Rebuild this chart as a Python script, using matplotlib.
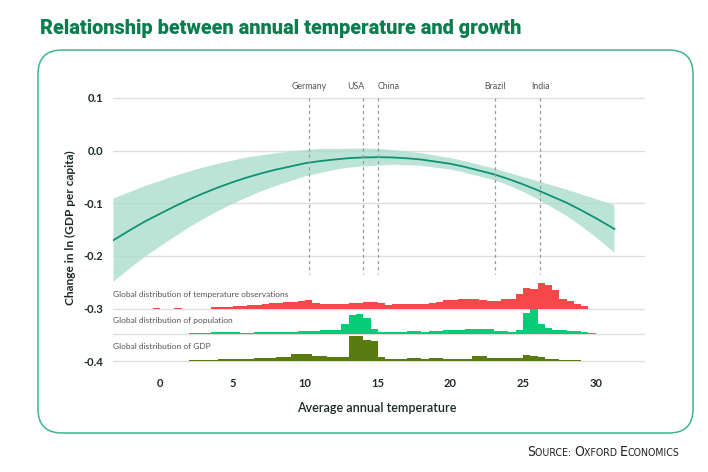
import numpy as np
import matplotlib
matplotlib.use('Agg')
import matplotlib.pyplot as plt
from matplotlib.patches import FancyBboxPatch
import matplotlib.transforms as mtransforms

plt.rcParams['font.family'] = ['Lato', 'DejaVu Sans']
plt.rcParams['axes.unicode_minus'] = False

# --- data ----------------------------------------------------------------
# fitted response curve: temperature (°C) -> change in ln(GDP per capita)
curve_temp = [-3.2, -2, -1, 0, 1, 2, 3, 4, 5, 6, 7, 8, 9, 10, 11, 12, 13, 14, 15,
              16, 17, 18, 19, 20, 21, 22, 23, 24, 25, 26, 27, 28, 29, 30, 31, 31.3]
curve_mid = [-0.170, -0.150, -0.134, -0.120, -0.106, -0.093, -0.081, -0.070, -0.060,
             -0.051, -0.043, -0.036, -0.030, -0.024, -0.020, -0.017, -0.0144, -0.013,
             -0.0125, -0.013, -0.0146, -0.017, -0.021, -0.025, -0.031, -0.038, -0.045,
             -0.054, -0.064, -0.075, -0.087, -0.099, -0.113, -0.128, -0.144, -0.149]
# half width of the confidence band
curve_half = [0.079, 0.072, 0.067, 0.062, 0.058, 0.053, 0.049, 0.045, 0.041, 0.038,
              0.034, 0.031, 0.028, 0.025, 0.023, 0.020, 0.018, 0.017, 0.016, 0.014,
              0.013, 0.012, 0.0115, 0.011, 0.011, 0.011, 0.011, 0.012, 0.014, 0.017,
              0.021, 0.025, 0.030, 0.036, 0.043, 0.045]

countries = ['Germany', 'USA', 'China', 'Brazil', 'India']
country_temp = [10.25, 13.95, 15.05, 23.05, 26.2]
country_align = ['center', 'right', 'left', 'center', 'center']

# distributions on 0.5 °C bins from -1 to 30 (relative shares)
bin_edges = np.arange(-1.0, 30.01, 0.5)
temp_obs_share = [0, 0.8, 0, 0, 0.8, 0, 0, 0, 0, 1.3, 1.5, 2.0, 2.5, 3.0, 3.5, 4.0,
                  5.0, 5.5, 6.0, 6.5, 7.0, 8.0, 8.3, 6.0, 5.0, 5.0, 5.0, 5.0, 6.0, 6.0,
                  6.7, 6.7, 5.3, 3.3, 4.7, 4.7, 5.0, 5.0, 4.7, 5.5, 6.7, 8.7, 9.0, 9.3,
                  9.3, 10.0, 8.7, 8.0, 7.3, 9.7, 10.0, 15.0, 21.0, 20.0, 26.0, 24.0,
                  18.3, 10.0, 7.3, 5.0, 2.7, 0]
population_share = [0, 0, 0, 0, 0, 0, 1.0, 1.3, 1.3, 2.3, 2.3, 2.3, 2.3, 1.3, 1.3,
                    1.7, 1.7, 1.7, 2.3, 2.3, 2.3, 2.7, 2.7, 2.7, 4.0, 4.0, 4.0, 10.0,
                    19.0, 19.5, 16.0, 5.0, 1.7, 1.7, 2.0, 2.3, 3.0, 3.3, 2.3, 3.3, 3.3,
                    3.5, 4.0, 4.0, 4.5, 4.7, 5.0, 4.5, 3.3, 3.3, 2.3, 4.0, 20.7, 25.0,
                    10.0, 6.0, 4.0, 4.0, 2.7, 2.7, 1.7, 1.0]
gdp_share = [0, 0, 0, 0, 0, 0, 1.0, 1.3, 1.3, 1.7, 2.0, 2.7, 2.7, 2.0, 2.0, 3.3, 3.3,
             3.3, 4.7, 4.7, 7.0, 7.0, 7.0, 5.3, 5.3, 4.7, 4.7, 4.0, 25.7, 25.0, 21.0,
             20.0, 4.3, 2.7, 2.0, 2.0, 3.7, 3.7, 2.0, 3.3, 3.3, 2.3, 2.7, 2.7, 2.7,
             5.0, 5.0, 3.0, 3.0, 3.7, 3.7, 3.7, 6.0, 5.7, 4.0, 2.7, 2.7, 1.3, 1.3,
             1.3, 0, 0]

dist_labels = ['Global distribution of temperature observations',
               'Global distribution of population',
               'Global distribution of GDP']
dist_base = [-0.300, -0.348, -0.400]
dist_colors = ['#f7474a', '#06cc78', '#5a7b10']
share_to_y = 0.0019  # vertical scale of the distribution strips

# --- figure ------------------------------------------------------------------
W, H = 708, 472
fig = plt.figure(figsize=(W / 100, H / 100), dpi=100)
fig.patch.set_facecolor('white')

# rounded frame
frame = FancyBboxPatch((38, H - 433), 655, 383, boxstyle='round,pad=0,rounding_size=24',
                       transform=mtransforms.IdentityTransform(), facecolor='none',
                       edgecolor='#3db592', linewidth=1.1, zorder=0)
fig.patches.append(frame)

fig.text(40 / W, 1 - 28 / H, 'Relationship between annual temperature and growth',
         fontsize=14.3, fontweight='black', color='#0b7d4c', va='center', ha='left',
         family=['Roboto', 'DejaVu Sans'])

ax = fig.add_axes([113 / W, 1 - 368 / H, (645 - 113) / W, (368 - 80) / H])
ax.set_xlim(-3.23, 33.4)
ax.set_ylim(-0.4127, 0.134)
for s in ax.spines.values():
    s.set_visible(False)

for yv in [0.1, 0.0, -0.1, -0.2] + dist_base:
    ax.axhline(yv, color='#dedede', lw=1.0, zorder=1)

mid = np.array(curve_mid)
half = np.array(curve_half)
ax.fill_between(curve_temp, mid - half, mid + half, facecolor='#a6dbc9', alpha=0.75,
                lw=0, zorder=2)
ax.plot(curve_temp, mid, color='#0f9272', lw=1.3, zorder=3)

for name, t, al in zip(countries, country_temp, country_align):
    ax.plot([t, t], [0.1, -0.234], color='#9a9a9a', lw=0.9, ls=(0, (2.5, 2.5)), zorder=4)
    nudge = {'center': 0.0, 'right': 0.1, 'left': -0.05}[al]
    ax.text(t + nudge, 0.122, name, ha=al, va='center', fontsize=6.3, color='#555555')

shares = [temp_obs_share, population_share, gdp_share]
label_y = [-0.274, -0.323, -0.372]
for lab, base, col, sh, ly in zip(dist_labels, dist_base, dist_colors, shares, label_y):
    vals = base + np.array(sh) * share_to_y
    ax.stairs(vals, bin_edges, baseline=base, fill=True, color=col, lw=0, zorder=3)
    ax.text(-3.2, ly, lab, ha='left', va='center', fontsize=6.0, color='#555555')

ax.set_xticks([0, 5, 10, 15, 20, 25, 30])
ax.set_yticks([0.1, 0.0, -0.1, -0.2, -0.3, -0.4])
ax.set_yticklabels(['0.1', '0.0', '-0.1', '-0.2', '-0.3', '-0.4'])
ax.tick_params(length=0, labelsize=8, labelcolor='#1c2b27', pad=7)
for lbl in ax.get_xticklabels() + ax.get_yticklabels():
    lbl.set_fontweight('bold')

fig.text(377 / W, 1 - 408 / H, 'Average annual temperature', ha='center', va='center',
         fontsize=9, color='#1c2b27', fontweight='semibold')
fig.text(70 / W, 1 - 228 / H, 'Change in ln (GDP per capita)', ha='center', va='center',
         rotation=90, fontsize=8.6, color='#1c2b27', fontweight='bold')

# "Source: Oxford Economics" in small caps
pieces = [('S', 10), ('OURCE: ', 7.6), ('O', 10), ('XFORD ', 7.6), ('E', 10), ('CONOMICS', 7.6)]
renderer = fig.canvas.get_renderer()
x = 527
for txt, size in pieces:
    t = fig.text(x / W, 1 - 456 / H, txt, fontsize=size, color='#222222', va='baseline',
                 ha='left', family=['DejaVu Sans'], fontstretch='condensed')
    x += t.get_window_extent(renderer).width

fig.savefig('out.png', dpi=100, facecolor='white')
